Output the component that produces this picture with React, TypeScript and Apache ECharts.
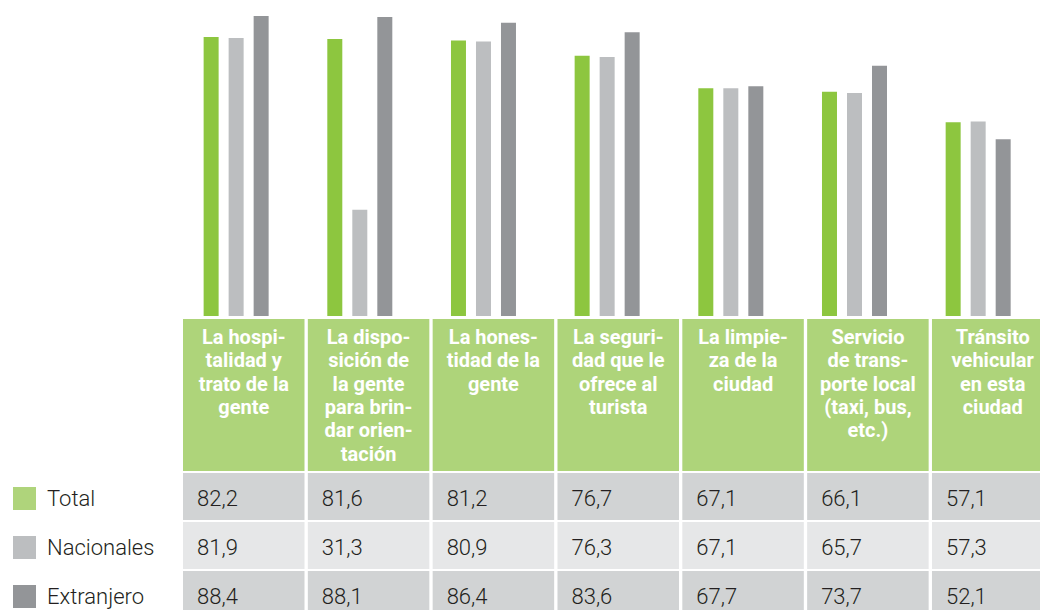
import React, { useEffect, useRef } from "react";
import * as echarts from "echarts";

const categories = [
  "La hospi-\ntalidad y\ntrato de la\ngente",
  "La dispo-\nsición de\nla gente\npara brin-\ndar orien-\ntación",
  "La hones-\ntidad de la\ngente",
  "La seguri-\ndad que le\nofrece al\nturista",
  "La limpie-\nza de la\nciudad",
  "Servicio\nde trans-\nporte local\n(taxi, bus,\netc.)",
  "Tránsito\nvehicular\nen esta\nciudad",
];
const seriesNames = ["Total", "Nacionales", "Extranjero"];
const total = [82.2, 81.6, 81.2, 76.7, 67.1, 66.1, 57.1];
const nacionales = [81.9, 31.3, 80.9, 76.3, 67.1, 65.7, 57.3];
const extranjero = [88.4, 88.1, 86.4, 83.6, 67.7, 73.7, 52.1];

const barColors = ["#8dc63f", "#bcbec0", "#939598"];
const legendColors = ["#afd47b", "#bcbec0", "#939598"];
const rowColors = ["#d1d3d4", "#e6e7e8", "#d1d3d4"];
const FONT = "Roboto, 'DejaVu Sans', sans-serif";

export default function App() {
  const ref = useRef<HTMLDivElement>(null);
  useEffect(() => {
    if (!ref.current) return;
    const chart = echarts.init(ref.current, null, { renderer: "svg" });
    const values = [total, nacionales, extranjero];

    const colLeft = 183;
    const colStride = 124.83;
    const colWidth = 121.5;
    const headerTop = 319;
    const headerHeight = 152;
    const rowTop = 473;
    const rowStride = 49;
    const rowHeight = 47;

    const graphic: any[] = [];
    categories.forEach((c, i) => {
      const x = colLeft + i * colStride;
      graphic.push({
        type: "rect",
        shape: { x, y: headerTop, width: colWidth, height: headerHeight },
        style: { fill: "#aed47a" },
        silent: true,
      });
      graphic.push({
        type: "text",
        x: x + colWidth / 2,
        y: 325.5,
        style: {
          text: c,
          fill: "#ffffff",
          font: `bold 20px ${FONT}`,
          lineHeight: 23.3,
          align: "center",
          verticalAlign: "top",
        },
        silent: true,
      });
    });
    values.forEach((vals, j) => {
      const y = rowTop + j * rowStride;
      graphic.push({
        type: "rect",
        shape: { x: 13, y: y + 14, width: 23, height: 23 },
        style: { fill: legendColors[j] },
        silent: true,
      });
      graphic.push({
        type: "text",
        x: 47,
        y: y + 25.5,
        style: {
          text: seriesNames[j],
          fill: "#231f20",
          font: `300 22px ${FONT}`,
          verticalAlign: "middle",
        },
        silent: true,
      });
      vals.forEach((v, i) => {
        const x = colLeft + i * colStride;
        graphic.push({
          type: "rect",
          shape: { x, y, width: colWidth, height: rowHeight },
          style: { fill: rowColors[j] },
          silent: true,
        });
        graphic.push({
          type: "text",
          x: x + 14,
          y: y + 25.5,
          style: {
            text: v.toFixed(1).replace(".", ","),
            fill: "#231f20",
            font: `300 22px ${FONT}`,
            verticalAlign: "middle",
          },
          silent: true,
        });
      });
    });

    chart.setOption({
      animation: false,
      grid: { left: 174.3, width: 870.3, top: 0, height: 316 },
      xAxis: {
        type: "category",
        data: categories,
        axisLine: { show: false },
        axisTick: { show: false },
        axisLabel: { show: false },
      },
      yAxis: {
        type: "value",
        min: 0,
        max: 93.1,
        show: false,
        splitLine: { show: false },
      },
      series: values.map((vals, j) => ({
        type: "bar",
        name: seriesNames[j],
        data: vals,
        barWidth: 15,
        barGap: "66.7%",
        itemStyle: { color: barColors[j] },
      })),
      graphic,
    });
    return () => chart.dispose();
  }, []);
  return (
    <div
      ref={ref}
      style={{ width: 1040, height: 610, position: "absolute", left: 0, top: 0 }}
    />
  );
}
